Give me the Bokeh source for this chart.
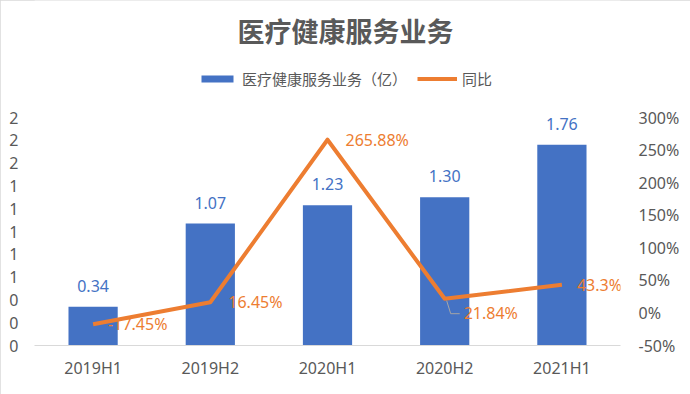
from bokeh.plotting import figure
from bokeh.models import (ColumnDataSource, FactorRange, Range1d, LinearAxis, FixedTicker,
                          NumeralTickFormatter, PrintfTickFormatter, LabelSet, Label,
                          Legend, LegendItem)
from bokeh.embed import file_html
from bokeh.resources import INLINE
from bokeh.core.properties import value

# ---------------- data ----------------
categories = ["2019H1", "2019H2", "2020H1", "2020H2", "2021H1"]
revenue = [0.34, 1.07, 1.23, 1.30, 1.76]
revenue_labels = ["0.34", "1.07", "1.23", "1.30", "1.76"]
yoy = [-17.45, 16.45, 265.88, 21.84, 43.3]
yoy_labels = ["-17.45%", "16.45%", "265.88%", "21.84%", "43.3%"]
left_ticks = [0, 0.2, 0.4, 0.6, 0.8, 1.0, 1.2, 1.4, 1.6, 1.8, 2.0]
right_ticks = [-50, 0, 50, 100, 150, 200, 250, 300]
title_text = "医疗健康服务业务"
bar_name = "医疗健康服务业务（亿）"
line_name = "同比"

# ---------------- layout / style ----------------
W, H = 690, 394
FRAME_L, FRAME_R = 34, 620          # plot area left/right (px)
AXIS_TOP, AXIS_BOTTOM = 117, 345     # pixel rows of top / bottom tick
BLUE = "#4472C4"
ORANGE = "#ED7D31"
GREY = "#595959"
FONT = "Noto Sans, Noto Sans CJK SC"
label_dx = [15, 18, 18, 19, 15]
label_dy = [0, 0, 0, -14, 0]

# the frame spans from the top of the canvas down to the x axis, so that the
# title and legend can live inside it; the value ranges are stretched so that
# the tick marks land on the same rows as in the reference.
stretch = AXIS_BOTTOM / (AXIS_BOTTOM - AXIS_TOP)
l0, l1 = left_ticks[0], left_ticks[-1]
r0, r1 = right_ticks[0], right_ticks[-1]
px_per_cat = (FRAME_R - FRAME_L) / len(categories)
pct_per_px = (r1 - r0) / (AXIS_BOTTOM - AXIS_TOP)

src = ColumnDataSource(dict(cat=categories, revenue=revenue, rlabel=revenue_labels,
                            yoy=yoy, ylabel=yoy_labels, dx=label_dx, dy=label_dy))

p = figure(width=W, height=H, x_range=FactorRange(*categories),
           y_range=Range1d(l0, l0 + (l1 - l0) * stretch),
           output_backend="svg", toolbar_location=None,
           min_border_left=FRAME_L, min_border_right=W - FRAME_R, min_border_top=0,
           min_border_bottom=H - AXIS_BOTTOM)
p.extra_y_ranges = {"right": Range1d(r0, r0 + (r1 - r0) * stretch)}
p.outline_line_color = None
p.xgrid.visible = False
p.ygrid.visible = False
p.styles = {"outline": "1px solid #D9D9D9", "outline-offset": "-1px"}

# left axis
ya = p.yaxis[0]
ya.ticker = FixedTicker(ticks=left_ticks)
ya.formatter = NumeralTickFormatter(format="0")
ya.axis_line_color = None
ya.major_tick_line_color = None
ya.minor_tick_line_color = None
ya.major_label_standoff = 10
ya.major_label_text_font = FONT
ya.major_label_text_font_size = "16px"
ya.major_label_text_color = GREY

# right axis
ra = LinearAxis(y_range_name="right", ticker=FixedTicker(ticks=right_ticks),
                formatter=PrintfTickFormatter(format="%d%%"))
ra.axis_line_color = None
ra.major_tick_line_color = None
ra.minor_tick_line_color = None
ra.major_label_standoff = 12
ra.major_label_text_font = FONT
ra.major_label_text_font_size = "16px"
ra.major_label_text_color = GREY
p.add_layout(ra, "right")

# x axis
xa = p.xaxis[0]
xa.axis_line_color = "#D9D9D9"
xa.axis_line_width = 1
xa.major_tick_line_color = None
xa.minor_tick_line_color = None
xa.major_label_standoff = 5
xa.major_label_text_font = FONT
xa.major_label_text_font_size = "16px"
xa.major_label_text_color = GREY

bars = p.vbar(x="cat", top="revenue", width=0.42, source=src,
              fill_color=BLUE, line_color=None)
line = p.line(x="cat", y="yoy", source=src, y_range_name="right",
              line_color=ORANGE, line_width=4, line_join="round")

# leader line from the 2020H2 point to its displaced label (pixel offsets)
lead_px = [(2, 2), (6, 15), (15, 15)]
p.line(x=[(categories[3], dx / px_per_cat) for dx, dy in lead_px],
       y=[yoy[3] - dy * pct_per_px for dx, dy in lead_px],
       y_range_name="right", line_color="#A6A6A6", line_width=1)

p.add_layout(LabelSet(x="cat", y="revenue", text="rlabel", source=src,
                      y_offset=21, text_align="center", text_baseline="middle",
                      text_color=BLUE, text_font=value(FONT), text_font_size="16px"))
p.add_layout(LabelSet(x="cat", y="yoy", text="ylabel", source=src,
                      y_range_name="right", x_offset="dx", y_offset="dy",
                      text_align="left", text_baseline="middle",
                      text_color=ORANGE, text_font=value(FONT), text_font_size="16px"))

# title (screen units: from the frame's bottom-left corner)
p.add_layout(Label(x=W / 2 - FRAME_L, y=AXIS_BOTTOM - 31, x_units="screen",
                   y_units="screen", text=title_text,
                   text_align="center", text_baseline="middle", text_color=GREY,
                   text_font=FONT, text_font_size="27px", text_font_style="bold"))

legend = Legend(items=[LegendItem(label=bar_name, renderers=[bars]),
                       LegendItem(label=line_name, renderers=[line])],
                orientation="horizontal", location=(197 - FRAME_L, AXIS_BOTTOM - 80 - 9),
                glyph_width=40, glyph_height=9, label_standoff=5, spacing=10,
                padding=0, margin=0, border_line_color=None,
                background_fill_alpha=0, label_text_font=FONT,
                label_text_font_size="15px", label_text_color=GREY,
                label_height=18)
p.add_layout(legend, "center")

open("out.html", "w").write(file_html(p, INLINE))
